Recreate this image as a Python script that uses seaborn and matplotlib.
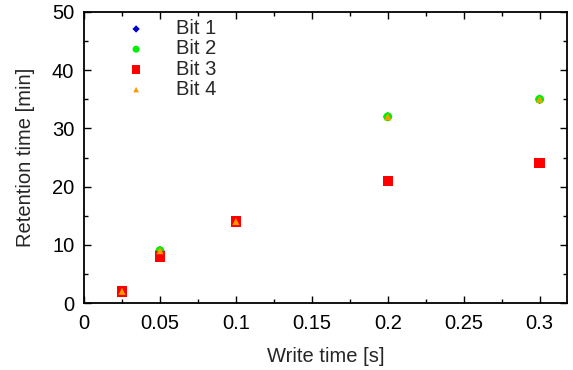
import numpy as np
import pandas as pd
import matplotlib
matplotlib.use("Agg")
import matplotlib.pyplot as plt
import seaborn as sns
from matplotlib.ticker import MultipleLocator

# data
write_time = [0.025, 0.05, 0.1, 0.2, 0.3]
bit1 = [2, 9, 14, 32, 35]
bit2 = [2, 9, 14, 32, 35]
bit3 = [2, 8, 14, 21, 24]
bit4 = [2, 9, 14, 32, 35]

series = ["Bit 1", "Bit 2", "Bit 3", "Bit 4"]
colors = ["#0000cc", "#00ee00", "#ff0000", "#ff9900"]
markers = ["D", "o", "s", "^"]
sizes = [22, 40, 55, 26]

df = pd.DataFrame({
    "t": write_time * 4,
    "ret": bit1 + bit2 + bit3 + bit4,
    "bit": np.repeat(series, len(write_time)),
})

sns.set_theme(style="ticks")
plt.rcParams["font.family"] = ["Liberation Sans", "DejaVu Sans"]
FS = 14.5

fig, ax = plt.subplots(figsize=(5.73, 3.70), dpi=100)

for name, c, m, s in zip(series, colors, markers, sizes):
    sub = df[df["bit"] == name]
    sns.scatterplot(data=sub, x="t", y="ret", color=c, marker=m, s=s,
                    edgecolor="none", label=name, ax=ax)

ax.set_xlim(0, 0.318)
ax.set_ylim(0, 50)
ax.xaxis.set_major_locator(MultipleLocator(0.05))
ax.xaxis.set_minor_locator(MultipleLocator(0.025))
ax.yaxis.set_major_locator(MultipleLocator(10))
ax.yaxis.set_minor_locator(MultipleLocator(5))
ax.set_xticks([0, 0.05, 0.1, 0.15, 0.2, 0.25, 0.3])
ax.set_xticklabels(["0", "0.05", "0.1", "0.15", "0.2", "0.25", "0.3"])
ax.tick_params(which="both", direction="in", top=True, right=True, labelsize=FS, colors="black")
ax.tick_params(axis="x", which="major", pad=8)
ax.tick_params(axis="y", which="major", pad=7)
ax.tick_params(which="major", length=5, width=1)
ax.tick_params(which="minor", length=3, width=1)
for sp in ax.spines.values():
    sp.set_linewidth(1.3)
    sp.set_color("black")

ax.set_xlabel("Write time [s]", fontsize=FS, labelpad=10)
ax.set_ylabel("Retention time [min]", fontsize=FS, labelpad=12)

leg = ax.legend(loc="upper left", bbox_to_anchor=(0.087, 0.975), frameon=False,
                fontsize=FS, handlelength=1.0, handletextpad=1.5, labelspacing=0.06,
                borderaxespad=0, borderpad=0, markerscale=0.8)

plt.subplots_adjust(left=0.1466, right=0.9895, top=0.9676, bottom=0.181)
plt.savefig("out.png", dpi=100)
plt.close()
